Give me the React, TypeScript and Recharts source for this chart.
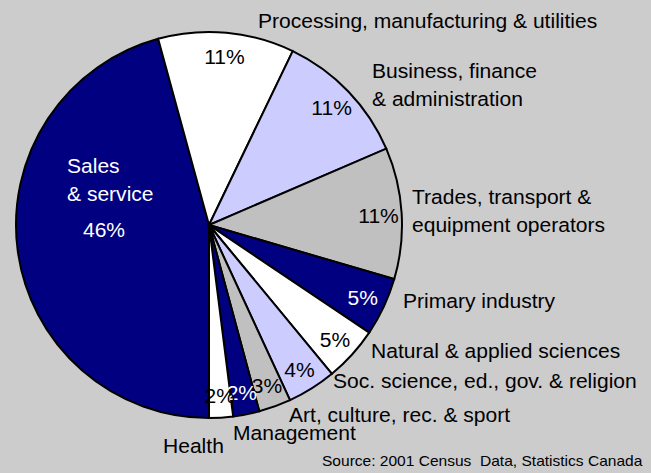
import React from "react";
import { PieChart, Pie, Cell } from "recharts";

// occupation groups, clockwise from the bottom of the pie
const categories = [
  "Sales & service",
  "Processing, manufacturing & utilities",
  "Business, finance & administration",
  "Trades, transport & equipment operators",
  "Primary industry",
  "Natural & applied sciences",
  "Soc. science, ed., gov. & religion",
  "Art, culture, rec. & sport",
  "Management",
  "Health",
];
const labelLines = [
  ["Sales", "& service"],
  ["Processing, manufacturing & utilities"],
  ["Business, finance", "& administration"],
  ["Trades, transport &", "equipment operators"],
  ["Primary industry"],
  ["Natural & applied sciences"],
  ["Soc. science, ed., gov. & religion"],
  ["Art, culture, rec. & sport"],
  ["Management"],
  ["Health"],
];
const shares = [45.8, 11.4, 11.4, 11.0, 4.9, 4.6, 4.1, 2.7, 2.2, 2.0];
const percentLabels = ["46%", "11%", "11%", "11%", "5%", "5%", "4%", "3%", "2%", "2%"];
const sourceNote = "Source: 2001 Census\u00a0 Data, Statistics Canada";

const NAVY = "#000080";
const FILLS = [NAVY, "#FFFFFF", "#CCCCFF", "#C0C0C0", NAVY, "#FFFFFF", "#CCCCFF", "#C0C0C0", NAVY, "#FFFFFF"];

// left edge / first baseline of each category label, relative to the pie centre
const LABEL_OFFSETS: [number, number][] = [
  [-142, -52],
  [49, -197],
  [163, -147],
  [203, -21],
  [194, 83],
  [162, 133],
  [124, 163],
  [80, 197],
  [24, 215],
  [-46, 228],
];

const W = 651;
const H = 473;
const CX = 209;
const CY = 225;
const R = 193;
const FONT = "'Liberation Sans', Arial, sans-serif";
const FS = 19.5;
const SX = 1.08; // text in the original is a little wide
const LINE = 27.5;

const chartData = categories.map((name, i) => ({ name, value: shares[i] }));

function Txt({ x, y, children, anchor = "start", color = "#000", size = FS }: any) {
  return (
    <g transform={`translate(${x},${y}) scale(${SX},1)`}>
      <text x={0} y={0} textAnchor={anchor} fontSize={size} fontFamily={FONT} fill={color}>
        {children}
      </text>
    </g>
  );
}

function renderLabel(props: any) {
  const { midAngle, index } = props;
  const cx = props.cx ?? CX;
  const cy = props.cy ?? CY;
  const outer = props.outerRadius ?? R;
  const ink = FILLS[index] === NAVY ? "#FFFFFF" : "#000000";
  const [dx, dy] = LABEL_OFFSETS[index];

  if (index === 0) {
    // Sales & service sits inside its own slice
    return (
      <g>
        {labelLines[0].map((line, k) => (
          <Txt key={k} x={cx + dx} y={cy + dy + k * LINE} color={ink}>
            {line}
          </Txt>
        ))}
        <Txt x={cx - 105} y={cy + 12} anchor="middle" color={ink}>
          {percentLabels[0]}
        </Txt>
      </g>
    );
  }

  const rad = (Math.PI / 180) * midAngle;
  const r = outer * 0.88;
  const px = cx + r * Math.cos(rad);
  const py = cy - r * Math.sin(rad) + 8;

  return (
    <g>
      <Txt x={px} y={py} anchor="middle" color={ink}>
        {percentLabels[index]}
      </Txt>
      {labelLines[index].map((line, k) => (
        <Txt key={k} x={cx + dx} y={cy + dy + k * LINE}>
          {line}
        </Txt>
      ))}
    </g>
  );
}

export default function App() {
  return (
    <div style={{ position: "absolute", left: 0, top: 0, width: W, height: H, background: "#CCCCCC" }}>
      <PieChart width={W} height={H} margin={{ top: 0, right: 0, bottom: 0, left: 0 }}>
        <Pie
          data={chartData}
          dataKey="value"
          nameKey="name"
          cx={CX}
          cy={CY}
          outerRadius={R}
          startAngle={270}
          endAngle={-90}
          stroke="#000000"
          strokeWidth={2}
          label={renderLabel}
          labelLine={false}
          isAnimationActive={false}
        >
          {chartData.map((d, i) => (
            <Cell key={d.name} fill={FILLS[i]} />
          ))}
        </Pie>
      </PieChart>
      <svg width={W} height={H} style={{ position: "absolute", left: 0, top: 0, pointerEvents: "none" }}>
        <Txt x={322} y={466} size={14.4}>
          {sourceNote}
        </Txt>
      </svg>
    </div>
  );
}
